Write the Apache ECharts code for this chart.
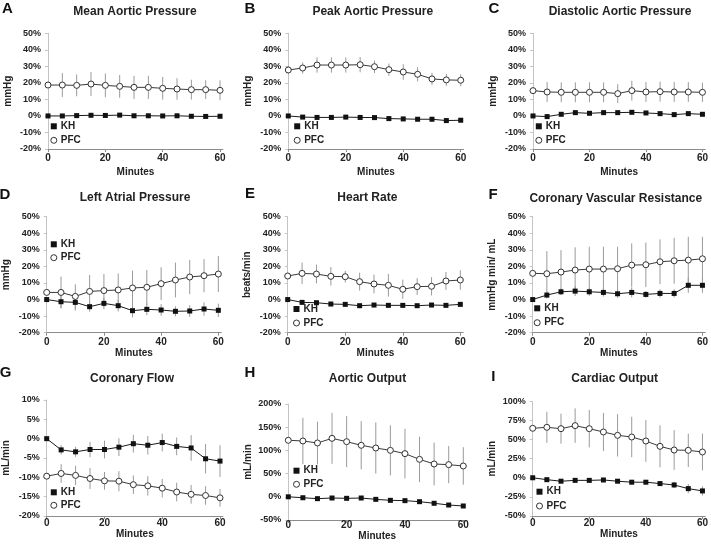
<!DOCTYPE html>
<html>
<head>
<meta charset="utf-8">
<script src="https://cdn.jsdelivr.net/npm/echarts@6/dist/echarts.min.js"></script>
<style>
  html, body { margin: 0; padding: 0; background: #fff; }
  #chart { width: 711px; height: 545px; }
</style>
</head>
<body>
<div id="chart"></div>
<script>
// ---------- DATA ----------
const minutes = [0, 5, 10, 15, 20, 25, 30, 35, 40, 45, 50, 55, 60];
const xTickLabels = [0, 20, 40, 60];
const seriesNames = ['KH', 'PFC'];

const panelLetters = ['A', 'B', 'C', 'D', 'E', 'F', 'G', 'H', 'I'];
const panelTitles = ['Mean Aortic Pressure', 'Peak Aortic Pressure', 'Diastolic Aortic Pressure',
  'Left Atrial Pressure', 'Heart Rate', 'Coronary Vascular Resistance',
  'Coronary Flow', 'Aortic Output', 'Cardiac Output'];
const yAxisNames = ['mmHg', 'mmHg', 'mmHg', 'mmHg', 'beats/min', 'mmHg min/ mL', 'mL/min', 'mL/min', 'mL/min'];
const xAxisName = 'Minutes';
// y ranges [min, max, interval] in %
const yRanges = [[-20, 50, 10], [-20, 50, 10], [-20, 50, 10], [-20, 50, 10], [-20, 50, 10], [-20, 50, 10],
  [-20, 10, 5], [-50, 200, 50], [-50, 100, 25]];

// A
const kh_A = [0, 0, 0.2, 0.4, 0.3, 0.5, 0.1, 0.1, 0, 0.1, -0.2, -0.3, -0.2];
const khErr_A = [0, 0.5, 0.5, 0.5, 0.5, 0.5, 0.5, 0.5, 0.5, 0.5, 0.5, 0.5, 0.5];
const pfc_A = [18.7, 18.7, 18.5, 19.3, 18.5, 17.9, 17.3, 17.3, 16.7, 16.3, 15.9, 15.9, 15.5];
const pfcErr_A = [0, 7.2, 6.6, 7.2, 7.2, 6.9, 7, 7, 6.9, 6.5, 6, 5.7, 6];
// B
const kh_B = [0, -0.7, -0.9, -0.9, -0.7, -0.9, -1, -1.6, -1.8, -2, -2, -2.8, -2.6];
const khErr_B = [0, 0.6, 0.6, 0.6, 0.6, 0.6, 0.6, 0.6, 0.7, 0.7, 0.7, 0.8, 0.8];
const pfc_B = [27.8, 29, 30.8, 30.8, 30.8, 31, 29.8, 28, 26.6, 25.2, 22.4, 21.8, 21.6];
const pfcErr_B = [2.5, 3.4, 4.6, 4.6, 4.6, 4.6, 3.8, 3.7, 4.7, 4.3, 3.7, 3.6, 3.6];
// C
const kh_C = [0, -0.4, 1, 2, 1.6, 2, 2, 2.2, 1.8, 1.4, 0.8, 1.4, 1];
const khErr_C = [0, 0.8, 0.8, 0.8, 0.8, 0.8, 0.8, 0.8, 0.8, 0.8, 0.8, 0.8, 0.8];
const pfc_C = [15.3, 14.5, 14.3, 14.3, 14.3, 14.3, 13.5, 15.3, 14.5, 14.7, 14.5, 14.5, 14.3];
const pfcErr_C = [0, 6, 6, 6, 6, 6, 5.7, 6, 6, 6, 6, 6, 5.8];
// D
const kh_D = [0, -1.3, -1.7, -4.3, -2.3, -3.7, -6.7, -5.9, -6.3, -7.1, -6.9, -5.7, -6.5];
const khErr_D = [0, 4, 5, 3, 3.5, 3.5, 4, 3.5, 3.5, 3, 3.5, 4, 4];
const pfc_D = [4.3, 4.3, 1.9, 4.9, 5.4, 5.8, 7, 7.4, 9.6, 11.8, 13.6, 14.4, 15.4];
const pfcErr_D = [0, 9.5, 7.3, 9.9, 10, 9.9, 10.5, 10.5, 9.9, 10.5, 10.3, 10, 10.9];
// E
const kh_E = [0, -1.7, -1.9, -2.7, -2.9, -3.7, -3.3, -3.5, -3.5, -3.7, -3.3, -3.5, -2.9];
const khErr_E = [0, 1, 1, 1, 1, 1, 1, 1.2, 1.2, 1, 1, 1, 1];
const pfc_E = [14.2, 15.8, 15.4, 14, 13.8, 10.8, 9.4, 8.6, 6.2, 7.8, 8, 11.2, 11.8];
const pfcErr_E = [0, 6.5, 5.7, 5.6, 3.5, 5.4, 5.7, 6.8, 5.8, 5.1, 5.5, 5.4, 5.9];
// F
const kh_F = [0, 2.7, 4.7, 5.1, 4.7, 4.3, 3.5, 4.3, 3.1, 3.7, 3.7, 8.6, 8.6];
const khErr_F = [0, 2, 2, 3, 2.5, 2.5, 2.5, 3, 2, 2.5, 2.5, 4.5, 4.5];
const pfc_F = [15.8, 15.6, 16.6, 17.8, 18.4, 18.4, 18.6, 20.8, 21, 22.8, 23.4, 23.8, 24.6];
const pfcErr_F = [0, 13.6, 13.2, 13.7, 13.5, 13.5, 13.3, 13.1, 13.4, 13.5, 13.8, 14.1, 13.3];
// G
const kh_G = [0, -2.9, -3.4, -2.8, -2.8, -2.2, -1.3, -1.7, -1.0, -2.0, -2.4, -5.2, -5.8];
const khErr_G = [0, 1.2, 1.3, 2, 2.3, 2.3, 2.3, 2.4, 2.3, 2.3, 3.3, 3.8, 4.1];
const pfc_G = [-9.7, -9.0, -9.5, -10.3, -10.9, -11.0, -11.9, -12.2, -12.8, -13.8, -14.4, -14.7, -15.3];
const pfcErr_G = [0, 2.4, 2.5, 2.7, 2.3, 2.6, 2.4, 2.5, 2.4, 2.4, 2.4, 2.4, 2.3];
// H
const kh_H = [0, -2, -4, -2.6, -3.3, -2.6, -5.5, -7.6, -8.3, -10.5, -14, -17.7, -19.8];
const khErr_H = [0, 2, 2, 2, 2, 2, 2, 2, 2, 3, 3, 4, 4];
const pfc_H = [121.8, 120.3, 116, 126, 118.8, 111, 105.2, 100.1, 93, 80.7, 70.7, 69.3, 66.4];
const pfcErr_H = [0, 50, 46, 55, 55, 52, 55, 54, 53.5, 49, 46, 40, 40.5];
// I
const kh_I = [0, -2.5, -4.5, -3.4, -3.4, -2.9, -4.5, -5.8, -5.8, -7.6, -9.4, -14.2, -17.2];
const khErr_I = [0, 2, 2, 2, 2, 2, 2, 2, 2, 3, 4, 6, 6];
const pfc_I = [64.7, 66, 64.2, 68.2, 64.2, 59.9, 55.5, 53.3, 48.1, 41.1, 36.3, 35.9, 33.7];
const pfcErr_I = [0, 20.3, 19.6, 22.5, 24.4, 24.9, 27.7, 26.4, 27.3, 27.5, 26, 21.8, 24];

const khAll = [kh_A, kh_B, kh_C, kh_D, kh_E, kh_F, kh_G, kh_H, kh_I];
const khErrAll = [khErr_A, khErr_B, khErr_C, khErr_D, khErr_E, khErr_F, khErr_G, khErr_H, khErr_I];
const pfcAll = [pfc_A, pfc_B, pfc_C, pfc_D, pfc_E, pfc_F, pfc_G, pfc_H, pfc_I];
const pfcErrAll = [pfcErr_A, pfcErr_B, pfcErr_C, pfcErr_D, pfcErr_E, pfcErr_F, pfcErr_G, pfcErr_H, pfcErr_I];

// ---------- LAYOUT (pixels) ----------
// grid box [x0, yTop, xEnd, yBottom]
const gridBoxes = [
  [48, 33.3, 222.9, 149], [288.3, 33.3, 463.6, 149], [533, 33.3, 707.9, 149],
  [46.7, 216.7, 221.2, 332.7], [287.7, 216.7, 463.2, 332.7], [532.7, 216.7, 707.9, 332.7],
  [46.7, 400, 222.9, 516], [288.3, 404, 466.2, 520], [532.7, 401.3, 707.9, 516]
];
const letterPos = [[7.5, 9], [250, 9], [494, 9], [5, 194.7], [250, 194], [493, 194.5], [5.7, 373.3], [250, 373], [493.3, 376.7]];
const titlePos = [[135, 12], [372.8, 12], [620, 12], [135, 198], [367.3, 198], [615.8, 198.5], [132, 379], [367.5, 379], [614.7, 379]];
// legend [iconCenterX, firstRowCenterY, rowSpacing]
const legendPos = [[53.3, 127.3, 16], [296.7, 127.3, 16], [538.3, 127.3, 16],
  [53.3, 245.3, 15.4], [296, 310, 16], [536.7, 309.3, 16.4],
  [53.3, 493.3, 15], [296, 471.7, 15.6], [539, 492.7, 16.3]];
const xLabelMargin = [4, 4, 4, 5, 5, 5, 2, 0, 2];
const xNameGap = [18, 18, 18, 16, 16, 16, 12, 10, 13];

const FONT = 'Liberation Sans, Arial, Helvetica, sans-serif';
const TXT = '#222';

const grids = [], xAxes = [], yAxes = [], series = [], legends = [], graphics = [];

function errData(vals, errs) {
  return minutes.map((m, i) => [m, vals[i], errs[i]]);
}
function renderErr(params, api) {
  const x = api.value(0), y = api.value(1), e = api.value(2);
  if (!e) return null;
  const p1 = api.coord([x, y - e]);
  const p2 = api.coord([x, y + e]);
  return {
    type: 'line',
    shape: { x1: p1[0], y1: p1[1], x2: p2[0], y2: p2[1] },
    style: { stroke: '#9a9a9a', lineWidth: 1 }
  };
}

for (let i = 0; i < 9; i++) {
  const b = gridBoxes[i];
  grids.push({ left: b[0], top: b[1], width: b[2] - b[0], height: b[3] - b[1], containLabel: false });
  xAxes.push({
    type: 'value', gridIndex: i, min: 0, max: 61, interval: 20,
    position: 'bottom',
    name: xAxisName, nameLocation: 'middle', nameGap: xNameGap[i],
    nameTextStyle: { fontFamily: FONT, fontWeight: 'bold', fontSize: 10, color: TXT },
    axisLine: { onZero: false, lineStyle: { color: '#8c8c8c', width: 1 } },
    axisTick: { show: true, length: 3, lineStyle: { color: '#8c8c8c' }, customValues: xTickLabels },
    axisLabel: { fontFamily: FONT, fontWeight: 'bold', fontSize: 10, color: TXT, margin: xLabelMargin[i], customValues: xTickLabels },
    splitLine: { show: false }
  });
  const r = yRanges[i];
  yAxes.push({
    type: 'value', gridIndex: i, min: r[0], max: r[1], interval: r[2],
    name: yAxisNames[i], nameLocation: 'middle', nameGap: 35, nameRotate: 90,
    nameTextStyle: { fontFamily: FONT, fontWeight: 'bold', fontSize: 10, color: TXT },
    axisLine: { show: true, lineStyle: { color: '#c4c4c4', width: 1 } },
    axisTick: { show: true, length: 3, lineStyle: { color: '#c4c4c4' } },
    axisLabel: { fontFamily: FONT, fontWeight: 'bold', fontSize: 9, color: TXT, margin: 7, formatter: '{value}%' },
    splitLine: { show: false }
  });
  // error bars
  series.push({
    type: 'custom', xAxisIndex: i, yAxisIndex: i, z: 1, silent: true,
    renderItem: renderErr, data: errData(pfcAll[i], pfcErrAll[i])
  });
  series.push({
    type: 'custom', xAxisIndex: i, yAxisIndex: i, z: 1, silent: true,
    renderItem: renderErr, data: errData(khAll[i], khErrAll[i])
  });
  series.push({
    name: 'PFC', type: 'line', xAxisIndex: i, yAxisIndex: i, z: 3,
    data: minutes.map((m, k) => [m, pfcAll[i][k]]),
    symbol: 'circle', symbolSize: 6, showAllSymbol: true,
    lineStyle: { color: '#3a3a3a', width: 1 },
    itemStyle: { color: '#fff', borderColor: '#333', borderWidth: 1 },
    emphasis: { disabled: true }, animation: false
  });
  series.push({
    name: 'KH', type: 'line', xAxisIndex: i, yAxisIndex: i, z: 3,
    data: minutes.map((m, k) => [m, khAll[i][k]]),
    symbol: 'rect', symbolSize: 5, showAllSymbol: true,
    lineStyle: { color: '#1a1a1a', width: 1 },
    itemStyle: { color: '#111', borderColor: '#111', borderWidth: 0 },
    emphasis: { disabled: true }, animation: false
  });
  const lp = legendPos[i];
  legends.push({
    orient: 'vertical', left: lp[0] - 3, top: lp[1] - 6,
    itemWidth: 6, itemHeight: 6, itemGap: lp[2] - 12, selectedMode: false,
    textStyle: { fontFamily: FONT, fontWeight: 'bold', fontSize: 10, color: TXT, padding: [0, 0, 0, -1] },
    padding: 0,
    data: [
      { name: seriesNames[0], icon: 'rect', itemStyle: { color: '#111', borderWidth: 0 } },
      { name: seriesNames[1], icon: 'circle', itemStyle: { color: '#fff', borderColor: '#333', borderWidth: 1 } }
    ]
  });
  graphics.push({
    type: 'text', x: letterPos[i][0], y: letterPos[i][1],
    style: { text: panelLetters[i], fill: '#111', font: 'bold 15px ' + FONT, align: 'center', verticalAlign: 'middle' }
  });
  graphics.push({
    type: 'text', x: titlePos[i][0], y: titlePos[i][1],
    style: { text: panelTitles[i], fill: TXT, font: 'bold 12px ' + FONT, align: 'center', verticalAlign: 'middle' }
  });
}

const chart = echarts.init(document.getElementById('chart'), null, { renderer: 'canvas' });
chart.setOption({
  backgroundColor: '#fff',
  animation: false,
  grid: grids, xAxis: xAxes, yAxis: yAxes, series: series, legend: legends,
  graphic: graphics
});
</script>
</body>
</html>
